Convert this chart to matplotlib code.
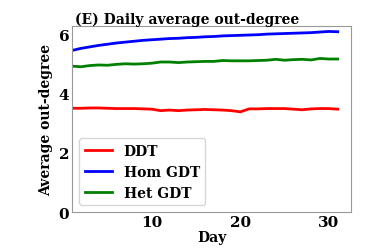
import matplotlib
matplotlib.use("Agg")
import matplotlib.pyplot as plt
import numpy as np

days = list(range(1, 32))
ddt = [3.50,3.50,3.51,3.51,3.50,3.49,3.49,3.49,3.48,3.47,3.42,3.44,3.42,3.44,3.45,3.46,3.45,3.44,3.42,3.38,3.48,3.48,3.49,3.49,3.49,3.47,3.45,3.48,3.49,3.49,3.47]
hom_gdt = [5.45,5.52,5.57,5.62,5.66,5.70,5.73,5.76,5.79,5.81,5.83,5.85,5.86,5.88,5.89,5.91,5.92,5.94,5.95,5.96,5.97,5.98,6.00,6.01,6.02,6.03,6.04,6.05,6.07,6.09,6.08]
het_gdt = [4.92,4.90,4.94,4.96,4.95,4.98,5.00,4.99,5.00,5.02,5.06,5.06,5.04,5.06,5.07,5.08,5.08,5.11,5.10,5.10,5.10,5.11,5.12,5.15,5.12,5.14,5.15,5.13,5.18,5.16,5.16]

plt.rcParams['font.family'] = 'DejaVu Serif'
plt.rcParams['font.weight'] = 'bold'

fig = plt.figure(figsize=(3.9, 2.51), dpi=100)
ax = fig.add_axes([0.185, 0.151, 0.715, 0.741])
ax.plot(days, ddt, color='red', lw=2, label='DDT')
ax.plot(days, hom_gdt, color='blue', lw=2, label='Hom GDT')
ax.plot(days, het_gdt, color='green', lw=2, label='Het GDT')
ax.set_xlim(1, 32.5)
ax.set_ylim(0, 6.27)
ax.set_xticks([10, 20, 30])
ax.set_yticks([0, 2, 4, 6])
ax.tick_params(labelsize=11, length=0, pad=2)
for lab in ax.get_xticklabels() + ax.get_yticklabels():
    lab.set_fontweight('bold')
for s in ax.spines.values():
    s.set_color('#999999')
ax.set_xlabel('Day', fontsize=10, fontweight='bold', labelpad=1)
ax.set_ylabel('Average out-degree', fontsize=10, fontweight='bold', labelpad=4)
ax.set_title('(E) Daily average out-degree', fontsize=10, fontweight='bold', loc='left', pad=2, x=0.012)
leg = ax.legend(loc='lower left', prop={'weight': 'bold', 'size': 10}, borderaxespad=0.5)
fig.savefig('out.png', dpi=100)
